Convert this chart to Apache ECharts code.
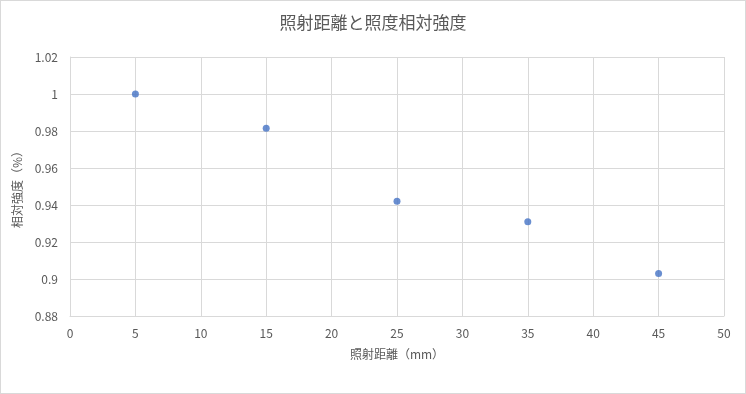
<!DOCTYPE html>
<html><head><meta charset="utf-8">
<script src="https://cdn.jsdelivr.net/npm/echarts@6/dist/echarts.min.js"></script>
<style>html,body{margin:0;padding:0;background:#fff}#c{width:746px;height:394px;box-sizing:border-box;border:1px solid #d9d9d9}</style>
</head><body><div id="c"></div>
<script>
const distances = [5, 15, 25, 35, 45];
const intensities = [1.0, 0.9815, 0.942, 0.931, 0.903];
const titleText = '照射距離と照度相対強度';
const xName = '照射距離（mm）';
const yName = '相対強度（%）';

const chart = echarts.init(document.getElementById('c'));
const font = '"Noto Sans CJK JP", "Noto Sans", sans-serif';
chart.setOption({
  animation: false,
  title: {text: titleText, left: 'center', top: 8,
    textStyle: {fontFamily: font, fontSize: 17, fontWeight: 'normal', color: '#595959'}},
  grid: {left: 69, right: 21, top: 56, bottom: 77},
  xAxis: {type: 'value', min: 0, max: 50, interval: 5,
    name: xName, nameLocation: 'middle', nameGap: 32,
    nameTextStyle: {fontFamily: font, fontSize: 12, color: '#595959'},
    axisLine: {show: true, lineStyle: {color: '#d9d9d9'}}, axisTick: {show: false},
    axisLabel: {fontFamily: font, fontSize: 12, color: '#595959', margin: 11},
    splitLine: {show: true, lineStyle: {color: '#d9d9d9'}}},
  yAxis: {type: 'value', min: 0.88, max: 1.02, interval: 0.02,
    name: yName, nameLocation: 'middle', nameGap: 46,
    nameTextStyle: {fontFamily: font, fontSize: 12, color: '#595959'},
    axisLine: {show: true, lineStyle: {color: '#d9d9d9'}}, axisTick: {show: false},
    axisLabel: {fontFamily: font, fontSize: 12, color: '#595959', margin: 12,
      formatter: v => String(parseFloat(v.toFixed(2)))},
    splitLine: {show: true, lineStyle: {color: '#d9d9d9'}}},
  series: [{type: 'scatter', symbol: 'circle', symbolSize: 7,
    itemStyle: {color: '#4472C4'},
    data: distances.map((d, i) => [d, intensities[i]])}]
});
</script></body></html>
